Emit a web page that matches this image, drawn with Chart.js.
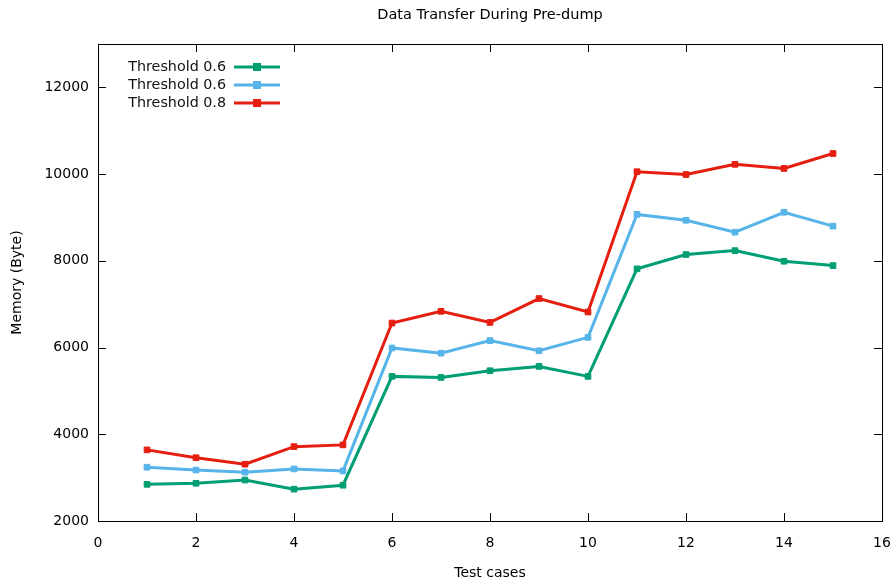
<!DOCTYPE html>
<html><head><meta charset="utf-8">
<script src="https://cdn.jsdelivr.net/npm/chart.js@4/dist/chart.umd.min.js"></script>
<style>html,body{margin:0;padding:0;background:#fff}#wrap{width:896px;height:588px}</style>
</head><body><div id="wrap"><canvas id="c" width="896" height="588"></canvas></div>
<script>
const testCases = [1,2,3,4,5,6,7,8,9,10,11,12,13,14,15];
const seriesNames = ["Threshold 0.6","Threshold 0.6","Threshold 0.8"];
const greenValues = [2845,2870,2945,2735,2825,5335,5310,5465,5565,5335,7815,8145,8235,7990,7890];
const blueValues  = [3240,3175,3125,3200,3155,5990,5870,6160,5925,6235,9070,8935,8660,9120,8800];
const redValues   = [3640,3460,3310,3715,3755,6565,6835,6580,7130,6820,10055,9990,10225,10130,10475];
const xTicks = [0,2,4,6,8,10,12,14,16];
const yTicks = [2000,4000,6000,8000,10000,12000];
const colors = ["#009e73","#56b4e9","#e51e10"];
const FONT = "DejaVu Sans";

function pts(vals){ return testCases.map((x,i)=>({x:x,y:vals[i]})); }
const allVals=[greenValues,blueValues,redValues];

const framePlugin = {
  id:'frame',
  afterDraw(chart){
    const ctx=chart.ctx, a=chart.chartArea, xs=chart.scales.x, ys=chart.scales.y;
    ctx.save();
    ctx.strokeStyle="#000"; ctx.lineWidth=1;
    ctx.strokeRect(Math.round(a.left)+0.5,Math.round(a.top)+0.5,Math.round(a.right-a.left),Math.round(a.bottom-a.top));
    ctx.beginPath();
    xTicks.forEach(v=>{const px=Math.round(xs.getPixelForValue(v))+0.5;
      ctx.moveTo(px,a.bottom);ctx.lineTo(px,a.bottom-8);
      ctx.moveTo(px,a.top);ctx.lineTo(px,a.top+8);});
    yTicks.forEach(v=>{const py=Math.round(ys.getPixelForValue(v))+0.5;
      ctx.moveTo(a.left,py);ctx.lineTo(a.left+8,py);
      ctx.moveTo(a.right,py);ctx.lineTo(a.right-8,py);});
    ctx.stroke();
    // title
    ctx.fillStyle="#000"; ctx.font="14.5px "+FONT; ctx.textAlign="center"; ctx.textBaseline="middle";
    ctx.fillText("Data Transfer During Pre-dump",(a.left+a.right)/2,15);
    // legend
    ctx.font="14.3px "+FONT; ctx.textAlign="right";
    seriesNames.forEach((n,i)=>{
      const y=67+i*18;
      ctx.fillStyle="#111"; ctx.fillText(n,226,y);
      ctx.strokeStyle=colors[i]; ctx.lineWidth=3;
      ctx.beginPath(); ctx.moveTo(234,y); ctx.lineTo(280,y); ctx.stroke();
      ctx.fillStyle=colors[i]; ctx.fillRect(253,y-4,8,8);
    });
    ctx.restore();
  }
};

new Chart(document.getElementById('c'),{
  type:'line',
  data:{datasets:allVals.map((v,i)=>({
    label:seriesNames[i], data:pts(v), borderColor:colors[i], backgroundColor:colors[i],
    borderWidth:3, pointStyle:'rect', pointRadius:4, pointBorderWidth:1,
    pointBorderColor:colors[i], pointBackgroundColor:colors[i], tension:0, fill:false
  }))},
  options:{
    responsive:false, animation:false, devicePixelRatio:1,
    layout:{padding:{top:44,right:14,left:0,bottom:0}},
    plugins:{legend:{display:false},title:{display:false},tooltip:{enabled:false}},
    scales:{
      x:{type:'linear',min:0,max:16,
        grid:{display:false,drawTicks:false},border:{display:false},
        afterBuildTicks:s=>{s.ticks=xTicks.map(v=>({value:v}));},
        afterFit:s=>{s.height=67;s.paddingLeft=0;s.paddingRight=0;},
        ticks:{padding:14,color:"#000",font:{family:FONT,size:14},callback:v=>String(v)},
        title:{display:true,text:"Test cases",color:"#000",font:{family:FONT,size:14},padding:{top:0,bottom:6}}},
      y:{type:'linear',min:2000,max:13000,
        grid:{display:false,drawTicks:false},border:{display:false},
        afterBuildTicks:s=>{s.ticks=yTicks.map(v=>({value:v}));},
        afterFit:s=>{s.width=98;s.paddingTop=0;s.paddingBottom=0;},
        ticks:{padding:9,color:"#000",font:{family:FONT,size:14},callback:v=>String(v)},
        title:{display:true,text:"Memory (Byte)",color:"#000",font:{family:FONT,size:14},padding:{top:9,bottom:0}}}
    }
  },
  plugins:[framePlugin]
});
</script></body></html>
